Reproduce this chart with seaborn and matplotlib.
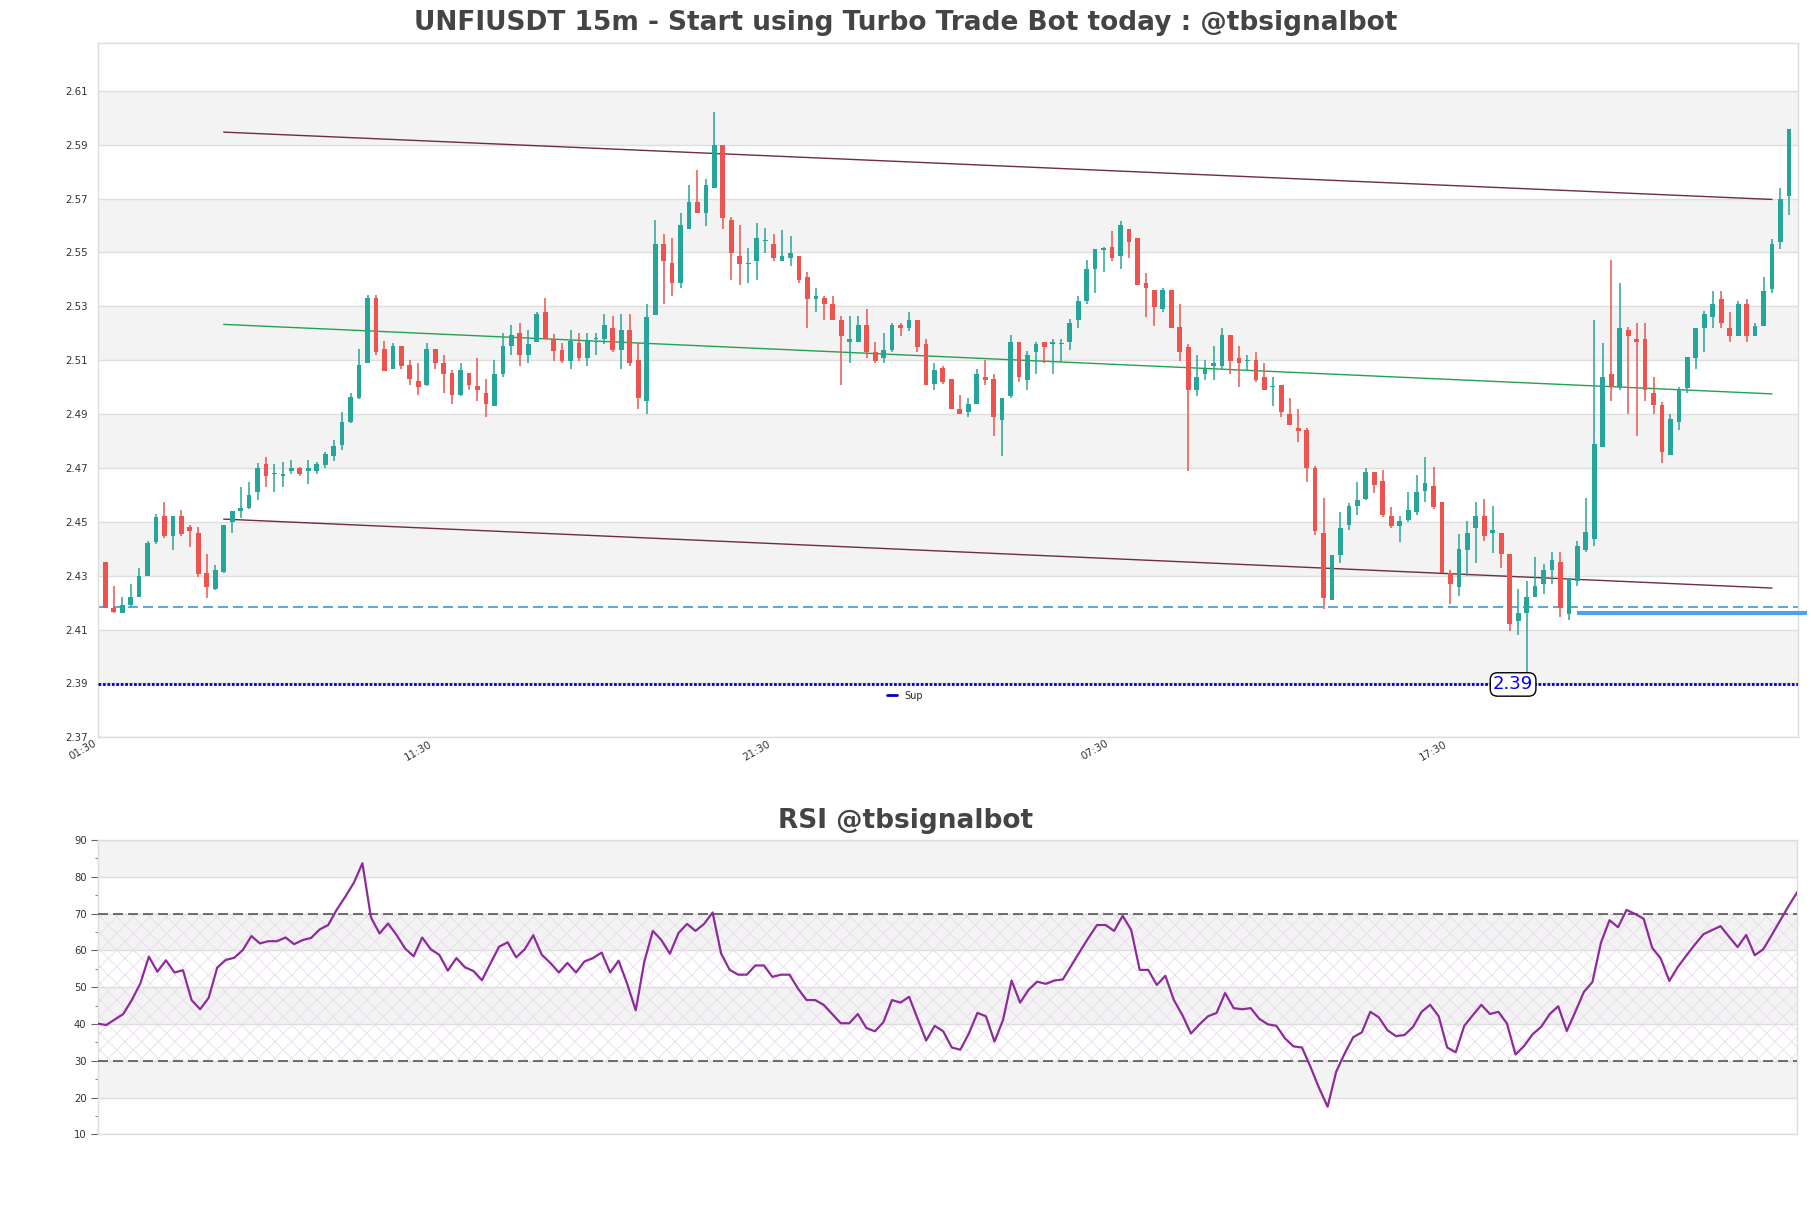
import matplotlib
matplotlib.use("Agg")
import matplotlib.pyplot as plt
from matplotlib.lines import Line2D
from matplotlib.ticker import MultipleLocator
import numpy as np
import seaborn as sns

sns.set_theme(style="white")
plt.rcParams['font.family'] = ['DejaVu Sans']
plt.rcParams['hatch.linewidth'] = 0.6

# ---- price data (15m candles) ----
opens = [2.435, 2.418, 2.416, 2.419, 2.422, 2.430, 2.4425, 2.452, 2.4448, 2.452,
         2.4482, 2.4459, 2.4309, 2.4249, 2.4315, 2.4499, 2.454, 2.455, 2.4609, 2.4713,
         2.4679, 2.4669, 2.4688, 2.470, 2.4689, 2.4688, 2.471, 2.4746, 2.4787, 2.487,
         2.496, 2.5089, 2.5331, 2.5141, 2.5067, 2.5151, 2.5081, 2.5022, 2.5008, 2.5141,
         2.5091, 2.5052, 2.497, 2.5052, 2.5004, 2.498, 2.493, 2.5048, 2.5151, 2.52,
         2.5119, 2.5168, 2.528, 2.5177, 2.5139, 2.5096, 2.5163, 2.5109, 2.5177, 2.5177,
         2.522, 2.5139, 2.5211, 2.5099, 2.4948, 2.5268, 2.553, 2.546, 2.5387, 2.5588,
         2.5689, 2.5647, 2.5739, 2.59, 2.562, 2.5488, 2.5458, 2.5468, 2.5541, 2.553,
         2.5468, 2.5478, 2.5488, 2.541, 2.5328, 2.533, 2.531, 2.5251, 2.5168, 2.5168,
         2.5229, 2.5131, 2.5109, 2.5139, 2.523, 2.522, 2.5251, 2.5161, 2.5012, 2.507,
         2.5032, 2.4919, 2.4906, 2.4939, 2.5038, 2.5032, 2.4877, 2.4968, 2.5168, 2.5028,
         2.513, 2.5168, 2.516, 2.5161, 2.5167, 2.5249, 2.532, 2.5438, 2.5511, 2.5519,
         2.5488, 2.5589, 2.5552, 2.5388, 2.536, 2.5289, 2.536, 2.5222, 2.515, 2.4988,
         2.5048, 2.5078, 2.5078, 2.5192, 2.5109, 2.5098, 2.5099, 2.5038, 2.4999, 2.5008,
         2.49, 2.4848, 2.4842, 2.4699, 2.4457, 2.4208, 2.4378, 2.4488, 2.4557, 2.4585,
         2.4686, 2.465, 2.452, 2.4485, 2.4508, 2.4536, 2.4616, 2.4632, 2.4572, 2.431,
         2.4258, 2.4395, 2.4478, 2.452, 2.4458, 2.4458, 2.4382, 2.413, 2.4162, 2.422,
         2.4269, 2.432, 2.4352, 2.4159, 2.4279, 2.4396, 2.4437, 2.4778, 2.505, 2.5001,
         2.5213, 2.518, 2.518, 2.4977, 2.4932, 2.4749, 2.487, 2.4998, 2.5108, 2.5218,
         2.5259, 2.5328, 2.5221, 2.5191, 2.531, 2.5191, 2.5228, 2.5365, 2.554, 2.5709]
highs = [2.435, 2.4262, 2.422, 2.427, 2.4327, 2.443, 2.4529, 2.4572, 2.452, 2.4542,
         2.4488, 2.4482, 2.4381, 2.434, 2.4489, 2.4541, 2.463, 2.4648, 2.4719, 2.4741,
         2.4713, 2.4722, 2.4731, 2.4703, 2.4731, 2.4722, 2.476, 2.4802, 2.4909, 2.498,
         2.5141, 2.5342, 2.5342, 2.5171, 2.5163, 2.5151, 2.5101, 2.5091, 2.5163, 2.5141,
         2.512, 2.5062, 2.5091, 2.5052, 2.511, 2.5032, 2.5101, 2.52, 2.523, 2.524,
         2.5211, 2.528, 2.533, 2.5196, 2.5163, 2.5211, 2.5201, 2.5201, 2.5201, 2.527,
         2.5265, 2.527, 2.527, 2.5165, 2.531, 2.562, 2.557, 2.5553, 2.5648, 2.575,
         2.5808, 2.5772, 2.602, 2.59, 2.563, 2.5601, 2.5518, 2.5611, 2.559, 2.557,
         2.5583, 2.556, 2.5488, 2.5429, 2.5369, 2.534, 2.534, 2.5263, 2.5263, 2.5263,
         2.5292, 2.5168, 2.5201, 2.5239, 2.5239, 2.528, 2.5251, 2.518, 2.5089, 2.5079,
         2.5032, 2.4972, 2.496, 2.5068, 2.5099, 2.505, 2.496, 2.5192, 2.5168, 2.5134,
         2.5168, 2.5168, 2.518, 2.518, 2.5252, 2.5339, 2.5471, 2.5512, 2.5519, 2.5581,
         2.5618, 2.5589, 2.5552, 2.5423, 2.536, 2.537, 2.536, 2.531, 2.5162, 2.5121,
         2.5099, 2.5152, 2.5221, 2.5192, 2.5152, 2.5121, 2.513, 2.509, 2.5038, 2.5008,
         2.496, 2.4919, 2.4848, 2.4709, 2.4587, 2.4378, 2.4537, 2.4568, 2.4646, 2.4699,
         2.4686, 2.4691, 2.4554, 2.452, 2.4612, 2.4673, 2.4742, 2.4705, 2.4572, 2.432,
         2.4453, 2.4502, 2.4572, 2.4584, 2.4558, 2.4458, 2.4382, 2.4251, 2.4279, 2.4368,
         2.4343, 2.4389, 2.4389, 2.4293, 2.443, 2.4588, 2.5248, 2.5163, 2.5471, 2.5388,
         2.5224, 2.5239, 2.5239, 2.5039, 2.4946, 2.4902, 2.5001, 2.5111, 2.5221, 2.5283,
         2.5358, 2.5358, 2.5279, 2.532, 2.5328, 2.5239, 2.541, 2.5551, 2.574, 2.596]
lows = [2.418, 2.416, 2.416, 2.4185, 2.422, 2.4297, 2.4418, 2.4438, 2.4396, 2.4446,
        2.4408, 2.4296, 2.4218, 2.4247, 2.4309, 2.4458, 2.4514, 2.4547, 2.458, 2.4628,
        2.4609, 2.4628, 2.4678, 2.4669, 2.464, 2.4678, 2.4699, 2.4727, 2.4768, 2.4868,
        2.4957, 2.5089, 2.5119, 2.506, 2.5067, 2.5069, 2.5007, 2.497, 2.5004, 2.5069,
        2.4977, 2.4936, 2.4967, 2.499, 2.4949, 2.4889, 2.493, 2.5039, 2.5119, 2.5079,
        2.5089, 2.5168, 2.5177, 2.5096, 2.5089, 2.5067, 2.5096, 2.5077, 2.5119, 2.5161,
        2.5131, 2.5067, 2.5079, 2.4919, 2.49, 2.5268, 2.5307, 2.5338, 2.5369, 2.5588,
        2.5647, 2.5599, 2.5739, 2.5588, 2.5399, 2.5379, 2.5387, 2.5399, 2.5498, 2.5468,
        2.5468, 2.5449, 2.5387, 2.522, 2.528, 2.5249, 2.5249, 2.5007, 2.5089, 2.5168,
        2.5109, 2.5089, 2.5089, 2.5131, 2.5189, 2.5208, 2.5131, 2.5007, 2.499, 2.5012,
        2.4919, 2.49, 2.4889, 2.4939, 2.5008, 2.4817, 2.4745, 2.496, 2.5018, 2.4988,
        2.5047, 2.509, 2.505, 2.5095, 2.5137, 2.5219, 2.5309, 2.5348, 2.5428, 2.5469,
        2.544, 2.5478, 2.538, 2.526, 2.5227, 2.5279, 2.5219, 2.5096, 2.4687, 2.4968,
        2.5028, 2.5028, 2.5068, 2.5048, 2.5001, 2.5059, 2.5018, 2.4988, 2.4929, 2.4889,
        2.4858, 2.4798, 2.4646, 2.445, 2.4177, 2.4208, 2.4347, 2.4469, 2.4525, 2.4581,
        2.4606, 2.4517, 2.4478, 2.4426, 2.4499, 2.4526, 2.4574, 2.4547, 2.431, 2.4196,
        2.4224, 2.4297, 2.4348, 2.443, 2.4385, 2.4327, 2.4093, 2.408, 2.39, 2.422,
        2.4231, 2.4269, 2.4148, 2.4137, 2.4262, 2.4389, 2.441, 2.4778, 2.4949, 2.499,
        2.4902, 2.4818, 2.4949, 2.4902, 2.4719, 2.4749, 2.484, 2.4977, 2.5067, 2.5131,
        2.5221, 2.5221, 2.5168, 2.5191, 2.5168, 2.5191, 2.5228, 2.5351, 2.5512, 2.564]
closes = [2.418, 2.4165, 2.419, 2.422, 2.430, 2.4423, 2.4519, 2.4448, 2.452, 2.4456,
          2.4467, 2.4305, 2.4259, 2.4321, 2.4489, 2.4541, 2.4552, 2.4601, 2.470, 2.4669,
          2.4681, 2.4679, 2.470, 2.4678, 2.470, 2.4713, 2.475, 2.478, 2.4871, 2.4962,
          2.5081, 2.5331, 2.5131, 2.506, 2.5153, 2.5079, 2.5029, 2.5001, 2.5141, 2.5089,
          2.5049, 2.497, 2.5062, 2.5007, 2.499, 2.4936, 2.505, 2.5151, 2.5193, 2.5119,
          2.5161, 2.527, 2.5177, 2.5136, 2.5096, 2.5171, 2.5109, 2.5171, 2.518, 2.5229,
          2.5139, 2.5211, 2.5089, 2.4959, 2.5261, 2.553, 2.5468, 2.5387, 2.5601, 2.5689,
          2.5647, 2.575, 2.59, 2.5627, 2.5498, 2.5458, 2.5459, 2.5553, 2.5542, 2.5478,
          2.5488, 2.5498, 2.5399, 2.5328, 2.534, 2.531, 2.5249, 2.5189, 2.518, 2.5229,
          2.5131, 2.5096, 2.5139, 2.523, 2.522, 2.5251, 2.5149, 2.5007, 2.5062, 2.502,
          2.4919, 2.49, 2.4939, 2.505, 2.5028, 2.4888, 2.496, 2.5168, 2.5038, 2.5121,
          2.5162, 2.5149, 2.5168, 2.5162, 2.5239, 2.5321, 2.544, 2.5512, 2.5512, 2.5478,
          2.5602, 2.554, 2.538, 2.5368, 2.5298, 2.536, 2.5219, 2.513, 2.4988, 2.5038,
          2.5068, 2.509, 2.5192, 2.5096, 2.509, 2.5099, 2.5028, 2.4988, 2.5001, 2.4906,
          2.4858, 2.4839, 2.4699, 2.4467, 2.4218, 2.4378, 2.4478, 2.4559, 2.4581, 2.4686,
          2.4637, 2.4526, 2.4485, 2.4502, 2.4543, 2.4612, 2.4643, 2.4554, 2.431, 2.4269,
          2.44, 2.4458, 2.452, 2.4448, 2.4469, 2.4382, 2.4121, 2.4162, 2.422, 2.4262,
          2.432, 2.4357, 2.4179, 2.4293, 2.441, 2.4462, 2.479, 2.5039, 2.5001, 2.5221,
          2.5191, 2.5168, 2.499, 2.4932, 2.476, 2.488, 2.499, 2.5111, 2.5221, 2.5272,
          2.531, 2.5237, 2.5191, 2.531, 2.5191, 2.5228, 2.5358, 2.553, 2.5699, 2.596]

# ---- RSI ----
rsi = [40.1, 39.7, 41.2, 42.7, 46.5, 51.0, 58.3, 54.2, 57.3, 54.0,
       54.6, 46.5, 44.0, 47.1, 55.3, 57.4, 58.0, 60.1, 63.9, 61.9,
       62.5, 62.5, 63.5, 61.7, 62.8, 63.4, 65.7, 66.9, 71.1, 74.6,
       78.4, 83.7, 69.0, 64.6, 67.3, 64.2, 60.5, 58.4, 63.5, 60.3,
       58.8, 54.5, 57.9, 55.4, 54.4, 51.9, 56.5, 61.0, 62.2, 58.1,
       60.3, 64.1, 58.8, 56.6, 54.0, 56.6, 54.0, 57.0, 57.9, 59.4,
       54.0, 57.2, 50.9, 43.7, 56.9, 65.3, 62.8, 59.1, 64.7, 67.2,
       65.3, 67.2, 70.3, 59.1, 54.7, 53.4, 53.4, 55.9, 55.9, 52.8,
       53.4, 53.4, 49.6, 46.5, 46.5, 45.2, 42.7, 40.2, 40.2, 42.7,
       38.9, 38.0, 40.5, 46.5, 45.8, 47.4, 41.4, 35.5, 39.5, 38.0,
       33.6, 33.0, 37.4, 43.0, 42.1, 35.2, 41.1, 51.8, 45.8, 49.3,
       51.5, 50.9, 51.8, 52.1, 55.9, 59.7, 63.4, 66.9, 66.9, 65.3,
       69.4, 65.6, 54.7, 54.7, 50.6, 53.1, 46.5, 42.4, 37.4, 39.9,
       42.1, 43.0, 48.4, 44.3, 44.0, 44.3, 41.4, 39.9, 39.5, 36.1,
       33.9, 33.6, 28.3, 22.6, 17.5, 27.0, 32.0, 36.4, 37.7, 43.3,
       41.8, 38.3, 36.7, 37.0, 39.2, 43.3, 45.2, 42.1, 33.6, 32.3,
       39.5, 42.4, 45.2, 42.7, 43.3, 40.1, 31.7, 34.0, 37.2, 39.2,
       42.7, 44.8, 38.1, 43.3, 48.7, 51.4, 62.1, 68.2, 66.3, 71.0,
       69.9, 68.6, 60.7, 57.8, 51.7, 55.5, 58.6, 61.6, 64.4, 65.5,
       66.6, 63.7, 60.9, 64.2, 58.7, 60.3, 64.2, 68.2, 72.2, 75.9]

# time labels sit slightly left of their candle
time_ticks = [-0.88, 38.8, 78.8, 118.8, 158.8]
time_labels = ["01:30", "11:30", "21:30", "07:30", "17:30"]
price_ticks = [2.37, 2.39, 2.41, 2.43, 2.45, 2.47, 2.49, 2.51, 2.53, 2.55, 2.57, 2.59, 2.61]
rsi_ticks = [10, 20, 30, 40, 50, 60, 70, 80, 90]

# channel lines (start / end candle index and price)
channel_x = [14, 197]
upper_line = [2.5947, 2.5697]
mid_line = [2.5233, 2.4975]
lower_line = [2.451, 2.4254]
sup_level = 2.3896
dash_level = 2.4182
thick_x = [174, 201.1]
thick_level = 2.4163
low_label = "2.39"

GREEN = "#26a69a"
RED = "#ef5350"
GRID = "#dedede"
BAND = "#f3f3f3"

fig = plt.figure(figsize=(18.11, 12.08), dpi=100)
ax = fig.add_axes([0.0539, 0.3897, 0.9388, 0.5745])
ax2 = fig.add_axes([0.0539, 0.0610, 0.9386, 0.2436])

o = np.array(opens); h = np.array(highs); l = np.array(lows); c = np.array(closes)
idx = np.arange(len(o))
cols = np.where(c >= o, GREEN, RED)

# alternating bands
for j in range(1, len(price_ticks) - 1, 2):
    ax.axhspan(price_ticks[j], price_ticks[j + 1], color=BAND, lw=0, zorder=0)

ax.vlines(idx, l, h, colors=cols, lw=1.1, zorder=3)
ax.bar(idx, np.maximum(np.abs(c - o), 0.0004), bottom=np.minimum(o, c), width=0.56,
       color=cols, lw=0, zorder=4)

ax.plot(channel_x, upper_line, color="#6e2c3e", lw=1, zorder=2)
ax.plot(channel_x, lower_line, color="#6e2c3e", lw=1, zorder=2)
ax.plot(channel_x, mid_line, color="#23a24d", lw=1, zorder=2)

ax.axhline(dash_level, color="#3a9ad9", lw=1.2, ls=(0, (6, 3)), zorder=2)
ax.plot(thick_x, [thick_level, thick_level], color="#4aa3ec", lw=3, zorder=5,
        clip_on=False, solid_capstyle="butt")
ax.axhline(sup_level, color="#0000cc", lw=2.0, ls=(0, (1, 0.6)), zorder=5)

ax.text(166.4, sup_level, low_label, color="#0000ff", fontsize=13, ha="center",
        va="center", zorder=6,
        bbox=dict(boxstyle="round,pad=0.15,rounding_size=0.4", fc="white", ec="black", lw=1))

ax.legend(handles=[Line2D([], [], color="#0000cc", lw=2)], labels=["Sup"],
          loc="center", bbox_to_anchor=(0.475, 0.06), frameon=False, fontsize=7,
          handlelength=1.0, handletextpad=0.8)

ax.set_yticks(price_ticks)
ax.set_yticklabels([f"{t:.2f}" for t in price_ticks])
ax.set_xticks(time_ticks)
ax.set_xticklabels(time_labels, rotation=30, ha="right")
ax.set_xlim(-0.9, 200.05)
ax.set_ylim(2.37, 2.6277)
ax.tick_params(axis="y", length=0, pad=7, labelsize=7.4, labelcolor="#333333")
ax.tick_params(axis="x", length=0, pad=1, labelsize=7.5, labelcolor="#333333")
ax.yaxis.grid(True, color=GRID, lw=1)
ax.xaxis.grid(False)
ax.set_axisbelow(True)

# ---- RSI panel ----
for j in range(1, len(rsi_ticks) - 1, 2):
    ax2.axhspan(rsi_ticks[j], rsi_ticks[j + 1], color=BAND, lw=0, zorder=0)
ax2.fill_between([0, len(rsi) - 1], 30, 70, facecolor="none", hatch="xx",
                 edgecolor="#e8dcec", lw=0, zorder=1)
sns.lineplot(x=idx, y=rsi, ax=ax2, color="#8e2b9a", lw=1.6, zorder=4)
ax2.axhline(70, color="#555555", lw=1.2, ls=(0, (6, 3)), zorder=3)
ax2.axhline(30, color="#555555", lw=1.2, ls=(0, (6, 3)), zorder=3)
ax2.set_xlim(0, len(rsi) - 1)
ax2.set_ylim(10, 90)
ax2.set_yticks(rsi_ticks)
ax2.yaxis.set_minor_locator(MultipleLocator(5))
ax2.tick_params(axis="y", which="major", left=True, length=5, width=0.8, color="#666666",
                pad=3, labelsize=7.2, labelcolor="#333333")
ax2.tick_params(axis="y", which="minor", left=True, length=2.5, width=0.8, color="#888888")
ax2.tick_params(axis="x", bottom=False, labelbottom=False)
ax2.set_xlabel("")
ax2.set_ylabel("")
ax2.yaxis.grid(True, color=GRID, lw=1)
ax2.set_axisbelow(True)

for a in (ax, ax2):
    for s in a.spines.values():
        s.set_color("#dddddd")
        s.set_linewidth(1)

fig.text(0.5, 0.981, "UNFIUSDT 15m - Start using Turbo Trade Bot today : @tbsignalbot",
         ha="center", va="center", fontsize=19, fontweight="bold", color="#444444")
fig.text(0.5, 0.3205, "RSI @tbsignalbot", ha="center", va="center", fontsize=19,
         fontweight="bold", color="#444444")

fig.savefig("out.png", dpi=100)
